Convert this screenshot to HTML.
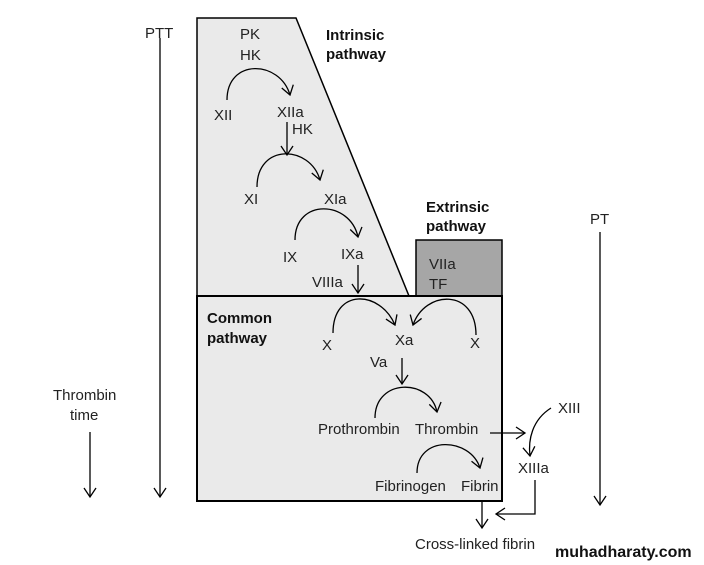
<!DOCTYPE html>
<html><head><style>body{margin:0;background:#fff}svg{display:block}text{font-family:"Liberation Sans",Arial,sans-serif;font-size:15px;fill:#222}.b{font-weight:bold;fill:#111}</style></head><body>
<svg width="704" height="565" viewBox="0 0 704 565" xmlns="http://www.w3.org/2000/svg">
<defs><marker id="a" markerWidth="14" markerHeight="14" refX="10" refY="7" orient="auto" markerUnits="userSpaceOnUse"><path d="M1,1 L10,7 L1,13" fill="none" stroke="#000" stroke-width="1.3"/></marker></defs>
<polygon points="197,18 296,18 409,296 197,296" fill="#eaeaea" stroke="#000" stroke-width="1.5"/>
<rect x="416" y="240" width="86" height="56" fill="#a6a6a6" stroke="#000" stroke-width="1.5"/>
<rect x="197" y="296" width="305" height="205" fill="#eaeaea" stroke="#000" stroke-width="2"/>
<g fill="none" stroke="#000" stroke-width="1.3">
<line x1="160" y1="38" x2="160" y2="497" marker-end="url(#a)"/>
<line x1="90" y1="432" x2="90" y2="497" marker-end="url(#a)"/>
<line x1="600" y1="232" x2="600" y2="505" marker-end="url(#a)"/>
<path d="M227,100 C227,58 280,60 290,95" marker-end="url(#a)"/>
<line x1="287" y1="122" x2="287" y2="155" marker-end="url(#a)"/>
<path d="M257,187 C257,143 310,145 320,180" marker-end="url(#a)"/>
<path d="M295,240 C295,198 350,200 358,237" marker-end="url(#a)"/>
<line x1="358" y1="265" x2="358" y2="293" marker-end="url(#a)"/>
<path d="M333,333 C333,288 380,290 395,325" marker-end="url(#a)"/>
<path d="M476,335 C476,288 425,290 413,325" marker-end="url(#a)"/>
<line x1="402" y1="358" x2="402" y2="384" marker-end="url(#a)"/>
<path d="M375,418 C375,378 430,378 437,412" marker-end="url(#a)"/>
<line x1="490" y1="433" x2="525" y2="433" marker-end="url(#a)"/>
<path d="M551,408 C532,420 528,440 530,456" marker-end="url(#a)"/>
<path d="M417,473 C417,435 470,437 480,468" marker-end="url(#a)"/>
<line x1="482" y1="502" x2="482" y2="528" marker-end="url(#a)"/>
<path d="M535,480 L535,514 L496,514" marker-end="url(#a)"/>
</g>
<text x="145" y="38">PTT</text>
<text x="53" y="400">Thrombin</text>
<text x="70" y="420">time</text>
<text x="590" y="224">PT</text>
<text class="b" x="326" y="40">Intrinsic</text>
<text class="b" x="326" y="59">pathway</text>
<text class="b" x="426" y="212">Extrinsic</text>
<text class="b" x="426" y="231">pathway</text>
<text x="429" y="269">VIIa</text>
<text x="429" y="289">TF</text>
<text class="b" x="207" y="323">Common</text>
<text class="b" x="207" y="343">pathway</text>
<text x="240" y="39">PK</text>
<text x="240" y="60">HK</text>
<text x="214" y="120">XII</text>
<text x="277" y="117">XIIa</text>
<text x="292" y="134">HK</text>
<text x="244" y="204">XI</text>
<text x="324" y="204">XIa</text>
<text x="283" y="262">IX</text>
<text x="341" y="259">IXa</text>
<text x="312" y="287">VIIIa</text>
<text x="322" y="350">X</text>
<text x="395" y="345">Xa</text>
<text x="470" y="348">X</text>
<text x="370" y="367">Va</text>
<text x="318" y="434">Prothrombin</text>
<text x="415" y="434">Thrombin</text>
<text x="558" y="413">XIII</text>
<text x="518" y="473">XIIIa</text>
<text x="375" y="491">Fibrinogen</text>
<text x="461" y="491">Fibrin</text>
<text x="415" y="549">Cross-linked fibrin</text>
<text class="b" x="555" y="557" style="font-size:16px">muhadharaty.com</text>
</svg>
</body></html>
